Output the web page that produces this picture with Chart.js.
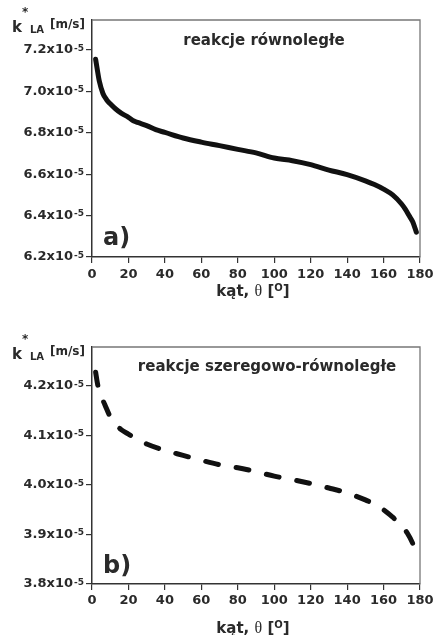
<!DOCTYPE html>
<html><head><meta charset="utf-8">
<script src="https://cdn.jsdelivr.net/npm/chart.js@4.4.1/dist/chart.umd.min.js"></script>
<style>html,body{margin:0;padding:0;background:#fff;}canvas{display:block;}</style>
</head><body>
<canvas id="c1" width="433" height="310"></canvas>
<canvas id="c2" width="433" height="325"></canvas>
<script>
// ---- data (k*LA values in units of 10^-5 m/s) ----
const thetaA = [2,3,4,6,8,10,13,16,20,23,25,30,35,40,50,60,70,80,90,100,110,120,130,140,150,155,160,165,170,172,174,176,178];
const kA     = [7.155,7.10,7.05,6.99,6.96,6.94,6.915,6.895,6.875,6.857,6.850,6.835,6.815,6.802,6.775,6.755,6.738,6.72,6.703,6.678,6.665,6.646,6.62,6.598,6.568,6.55,6.528,6.50,6.455,6.43,6.40,6.37,6.32];
const thetaB = [2,3,5,7,10,13,16,20,25,30,40,50,60,70,80,90,100,110,120,130,140,150,155,160,165,170,173,176,178];
const kB     = [4.228,4.205,4.18,4.163,4.138,4.123,4.112,4.103,4.092,4.083,4.070,4.060,4.050,4.041,4.035,4.027,4.018,4.011,4.003,3.994,3.984,3.970,3.961,3.950,3.935,3.918,3.903,3.882,3.860];
const xTicks  = [0,20,40,60,80,100,120,140,160,180];
const yTicksA = [6.2,6.4,6.6,6.8,7.0,7.2];
const yTicksB = [3.8,3.9,4.0,4.1,4.2];
const titleA = 'reakcje równoległe';
const titleB = 'reakcje szeregowo-równoległe';
const tagA = 'a)';
const tagB = 'b)';
const expText = '-5';

const TEXT = '#2a2a2a';
const FONT = '"DejaVu Sans", sans-serif';

function decor(o) {
  return {
    id: 'decor',
    afterDraw(chart) {
      const ctx = chart.ctx, a = chart.chartArea, ys = chart.scales.y;
      ctx.save();
      // top/right frame
      ctx.strokeStyle = '#777'; ctx.lineWidth = 1.3;
      ctx.beginPath(); ctx.moveTo(a.left, a.top); ctx.lineTo(a.right, a.top); ctx.lineTo(a.right, a.bottom + 0.5); ctx.stroke();
      ctx.fillStyle = TEXT;
      // exponents on y tick labels
      ctx.font = 'bold 9px ' + FONT; ctx.textAlign = 'left'; ctx.textBaseline = 'alphabetic';
      ys.ticks.forEach(t => {
        const py = ys.getPixelForValue(t.value);
        ctx.fillText(expText, a.left - 18, py + 0.5);
      });
      // y axis label k*LA [m/s]
      ctx.font = 'bold 15px ' + FONT; ctx.fillText('k', 12, a.top + 12);
      ctx.font = 'bold 12px ' + FONT; ctx.fillText('*', 22, a.top - 4);
      ctx.font = 'bold 10px ' + FONT; ctx.fillText('LA', 30, a.top + 13);
      ctx.font = 'bold 12px ' + FONT; ctx.fillText('[m/s]', 50, a.top + 8);
      // title inside plot
      ctx.font = 'bold 15px ' + FONT; ctx.textAlign = 'center'; ctx.textBaseline = 'middle';
      ctx.fillText(o.title, o.titleX, a.top + o.titleDy);
      // tag a)/b)
      ctx.font = 'bold 24px ' + FONT; ctx.textAlign = 'left'; ctx.textBaseline = 'alphabetic';
      ctx.fillText(o.tag, 103, a.bottom - o.tagDy);
      // x axis title: kąt, θ [o]
      const base = a.bottom + o.xTitleDy;
      const parts = [
        {t: 'kąt, ', f: 'bold 15px ' + FONT, dy: 0},
        {t: 'θ', f: '16px "Liberation Serif", serif', dy: 0},
        {t: ' [', f: 'bold 15px ' + FONT, dy: 0},
        {t: 'O', f: 'bold 10px ' + FONT, dy: -5},
        {t: ']', f: 'bold 15px ' + FONT, dy: 0}
      ];
      let total = 0;
      parts.forEach(p => { ctx.font = p.f; p.w = ctx.measureText(p.t).width; total += p.w; });
      let x = 253 - total / 2;
      parts.forEach(p => { ctx.font = p.f; ctx.fillText(p.t, x, base + p.dy); x += p.w; });
      ctx.restore();
    }
  };
}

function makeChart(id, xs, ys, yMin, yMax, yTicks, dashed, o) {
  return new Chart(document.getElementById(id), {
    type: 'line',
    data: {
      datasets: [{
        data: xs.map((x, i) => ({x: x, y: ys[i]})),
        borderColor: '#111',
        borderWidth: 5,
        borderDash: dashed ? [13, 18] : [],
        borderCapStyle: 'round',
        borderJoinStyle: 'round',
        pointRadius: 0,
        cubicInterpolationMode: 'monotone',
        fill: false
      }]
    },
    options: {
      responsive: false,
      animation: false,
      layout: {padding: {top: o.padTop, right: 13, left: 0, bottom: 0}},
      plugins: {legend: {display: false}, tooltip: {enabled: false}},
      scales: {
        x: {
          type: 'linear', min: 0, max: 180,
          afterBuildTicks: s => { s.ticks = xTicks.map(v => ({value: v})); },
          afterFit: s => { s.height = o.xHeight; s.paddingLeft = 0; s.paddingRight = 0; },
          ticks: {font: {family: FONT, size: 13, weight: 'bold'}, color: TEXT, padding: o.xPad, maxRotation: 0, autoSkip: false},
          grid: {drawOnChartArea: false, tickLength: 6, color: '#333', lineWidth: 1.2},
          border: {color: '#333', width: 1.5}
        },
        y: {
          type: 'linear', min: yMin, max: yMax,
          afterBuildTicks: s => { s.ticks = yTicks.map(v => ({value: v})); },
          afterFit: s => { s.width = 92; s.paddingTop = 0; s.paddingBottom = 0; },
          ticks: {callback: v => v.toFixed(1) + 'x10', font: {family: FONT, size: 13, weight: 'bold'}, color: TEXT, padding: 13},
          grid: {drawOnChartArea: false, tickLength: 6, color: '#333', lineWidth: 1.2},
          border: {color: '#333', width: 1.5}
        }
      }
    },
    plugins: [decor(o)]
  });
}

makeChart('c1', thetaA, kA, 6.2, 7.345, yTicksA, false,
  {padTop: 20, xHeight: 53, xPad: 4, title: titleA, titleX: 264, titleDy: 21, tag: tagA, tagDy: 12, xTitleDy: 39});
makeChart('c2', thetaB, kB, 3.8, 4.279, yTicksB, true,
  {padTop: 37, xHeight: 51, xPad: 3, title: titleB, titleX: 267, titleDy: 20, tag: tagB, tagDy: 11, xTitleDy: 49});
</script>
</body></html>
